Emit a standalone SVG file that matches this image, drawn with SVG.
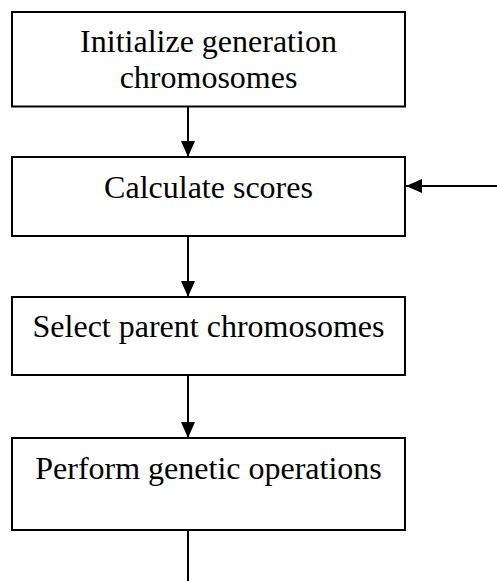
<svg xmlns="http://www.w3.org/2000/svg" width="497" height="581" viewBox="0 0 497 581">
<style>
.box{fill:#fff;stroke:#000;stroke-width:2}
.lbl{font-family:"Liberation Serif","Times New Roman",serif;font-size:32px;fill:#000;text-anchor:middle}
.con{stroke:#000;stroke-width:2;fill:none}
</style>
<defs>
<marker id="ah" markerUnits="userSpaceOnUse" markerWidth="16" markerHeight="16" viewBox="0 0 16 16" refX="16" refY="8" orient="auto">
<path d="M0,1 L16,8 L0,15 Z" fill="#000"/>
</marker>
</defs>
<rect width="497" height="581" fill="#fff"/>
<g id="n1"><rect class="box" x="12" y="12" width="393" height="94.5"/>
<text class="lbl" x="208.5" y="52">Initialize generation</text>
<text class="lbl" x="208.5" y="88">chromosomes</text></g>
<g id="n2"><rect class="box" x="12" y="157" width="393" height="79"/>
<text class="lbl" x="208.5" y="197.5">Calculate scores</text></g>
<g id="n3"><rect class="box" x="12" y="297" width="393" height="78"/>
<text class="lbl" x="208.5" y="337">Select parent chromosomes</text></g>
<g id="n4"><rect class="box" x="12" y="438" width="393" height="92"/>
<text class="lbl" x="208.5" y="479">Perform genetic operations</text></g>
<g id="connectors">
<line class="con" x1="188" y1="106.5" x2="188" y2="157" marker-end="url(#ah)"/>
<line class="con" x1="188" y1="236" x2="188" y2="297" marker-end="url(#ah)"/>
<line class="con" x1="188" y1="375" x2="188" y2="438" marker-end="url(#ah)"/>
<line class="con" x1="188" y1="530" x2="188" y2="581"/>
<line class="con" x1="497" y1="186" x2="406" y2="186" marker-end="url(#ah)"/>
</g>
</svg>
